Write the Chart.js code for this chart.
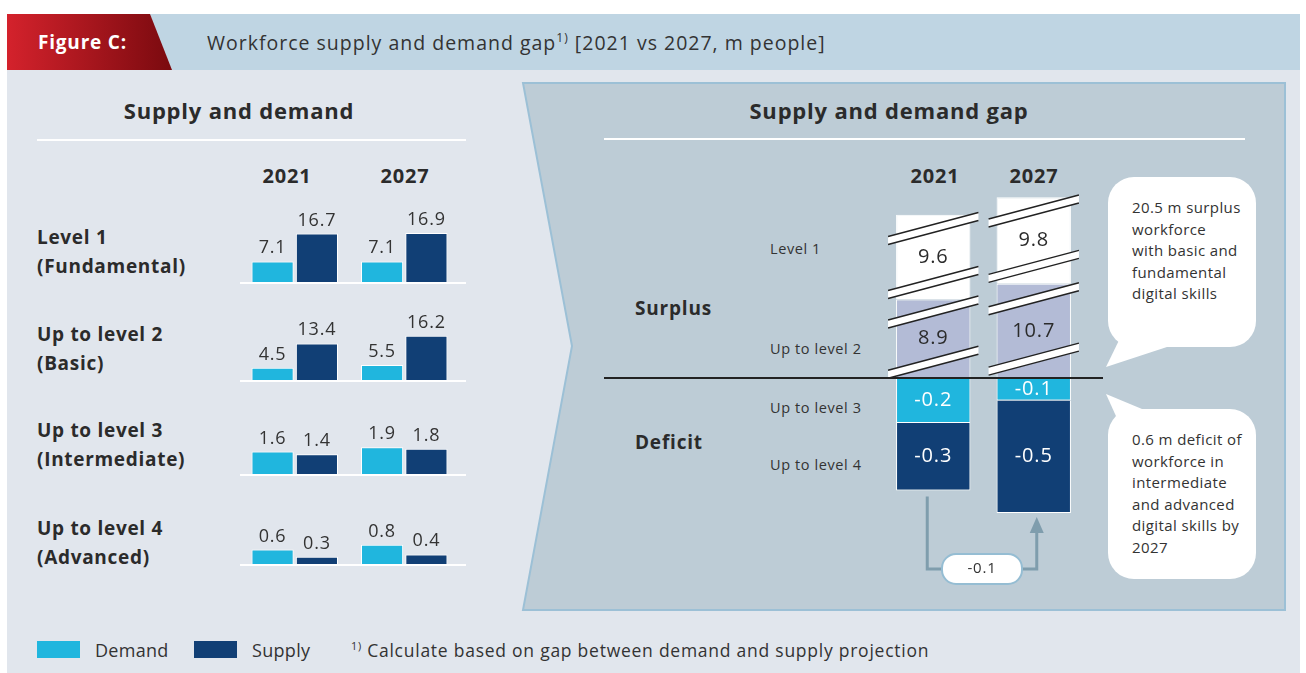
<!DOCTYPE html>
<html lang="en">
<head>
<meta charset="UTF-8">
<title>Figure C - Workforce supply and demand gap</title>
<script src="https://cdn.jsdelivr.net/npm/chart.js"></script>
<style>
    body {
        margin: 0;
        width: 1306px;
        height: 673px;
        position: relative;
        overflow: hidden;
        background: #fff;
        font-family: 'Open Sans', sans-serif;
        color: #2b2b2b;
        letter-spacing: 0.8px;
    }
    .abs { position: absolute; }
    .t { position: absolute; transform: translateY(-50%); white-space: nowrap; }
    .c { position: absolute; transform: translate(-50%, -50%); white-space: nowrap; }
    .b { font-weight: 700; }
    .row { font-size: 19px; font-weight: 700; line-height: 29px; letter-spacing: 0.7px; }
    .lvl { font-size: 14.5px; color: #333; letter-spacing: 0.6px; }
    .bubble { font-size: 15px; line-height: 21.5px; color: #333; position: absolute; letter-spacing: 0.4px; }
    canvas { position: absolute; }
    sup { font-size: 62%; }
</style>
</head>
<body>
<svg class="abs" width="1306" height="673" style="left:0;top:0">
    <defs>
        <linearGradient id="red" x1="0" x2="1" y1="0" y2="0">
            <stop offset="0" stop-color="#d4222c"/>
            <stop offset="1" stop-color="#7a0a0f"/>
        </linearGradient>
    </defs>
    <rect x="7" y="70" width="1293" height="603" fill="#e1e6ed"/>
    <rect x="7" y="14" width="1293" height="56" fill="#bfd5e3"/>
    <polygon points="7,14 150,14 172,70 7,70" fill="url(#red)"/>
    <polygon points="523,83 1285,83 1285,610 523,610 572,346" fill="#bdccd6" stroke="#9cc0d6" stroke-width="2"/>
    <line x1="37" y1="140" x2="466" y2="140" stroke="#fff" stroke-width="2"/>
    <line x1="604" y1="139" x2="1245" y2="139" stroke="#fff" stroke-width="2"/>
    <g stroke="#fff" stroke-width="2">
        <line x1="240" y1="283" x2="466" y2="283"/>
        <line x1="240" y1="381" x2="466" y2="381"/>
        <line x1="240" y1="475" x2="466" y2="475"/>
        <line x1="240" y1="565" x2="466" y2="565"/>
    </g>
    <g fill="#fff">
        <rect x="1108" y="177" width="148" height="170" rx="26"/>
        <polygon points="1124,330 1106,367 1170,346 1170,330"/>
        <rect x="1108" y="409" width="148" height="170" rx="26"/>
        <polygon points="1106,394 1142,409 1142,425 1120,425"/>
    </g>
    <rect x="37" y="641" width="43" height="17" fill="#20b6de"/>
    <rect x="194" y="641" width="43" height="17" fill="#113f75"/>
</svg>

<div class="t b" style="left:38px;top:42px;color:#fff;font-size:19px">Figure C:</div>
<div class="t" style="left:207px;top:42px;font-size:19.5px;color:#333;letter-spacing:1px">Workforce supply and demand gap<sup>1)</sup> [2021 vs 2027, m people]</div>

<div class="c b" style="left:239px;top:110px;font-size:22px">Supply and demand</div>
<div class="c b" style="left:889px;top:110px;font-size:22px">Supply and demand gap</div>

<div class="c b" style="left:287px;top:175px;font-size:20px">2021</div>
<div class="c b" style="left:405px;top:175px;font-size:20px">2027</div>
<div class="c b" style="left:935px;top:175px;font-size:20px">2021</div>
<div class="c b" style="left:1034px;top:175px;font-size:20px">2027</div>

<div class="t row" style="left:37px;top:252px">Level 1<br>(Fundamental)</div>
<div class="t row" style="left:37px;top:349px">Up to level 2<br>(Basic)</div>
<div class="t row" style="left:37px;top:445px">Up to level 3<br>(Intermediate)</div>
<div class="t row" style="left:37px;top:543px">Up to level 4<br>(Advanced)</div>

<div class="t b" style="left:635px;top:308px;font-size:19px">Surplus</div>
<div class="t b" style="left:635px;top:442px;font-size:19px">Deficit</div>
<div class="t lvl" style="left:770px;top:248px">Level 1</div>
<div class="t lvl" style="left:770px;top:348px">Up to level 2</div>
<div class="t lvl" style="left:770px;top:407px">Up to level 3</div>
<div class="t lvl" style="left:770px;top:464px">Up to level 4</div>

<div class="bubble" style="left:1132px;top:197px">20.5 m surplus<br>workforce<br>with basic and<br>fundamental<br>digital skills</div>
<div class="bubble" style="left:1132px;top:429px">0.6 m deficit of<br>workforce in<br>intermediate<br>and advanced<br>digital skills by<br>2027</div>

<div class="t" style="left:95px;top:650px;font-size:18px;color:#333;letter-spacing:0.3px">Demand</div>
<div class="t" style="left:252px;top:650px;font-size:18px;color:#333;letter-spacing:0.3px">Supply</div>
<div class="t" style="left:351px;top:650px;font-size:17.5px;color:#333;letter-spacing:0.75px"><sup>1)</sup> Calculate based on gap between demand and supply projection</div>

<canvas id="row1" width="226" height="90" style="left:240px;top:192px"></canvas>
<canvas id="row2" width="226" height="90" style="left:240px;top:290px"></canvas>
<canvas id="row3" width="226" height="90" style="left:240px;top:384px"></canvas>
<canvas id="row4" width="226" height="90" style="left:240px;top:474px"></canvas>
<canvas id="gapChart" width="505" height="420" style="left:600px;top:180px"></canvas>

<script>
    const years = ['2021', '2027'];

    // Supply and demand (m people)
    const demandLevel1 = [7.1, 7.1];
    const supplyLevel1 = [16.7, 16.9];
    const demandLevel2 = [4.5, 5.5];
    const supplyLevel2 = [13.4, 16.2];
    const demandLevel3 = [1.6, 1.9];
    const supplyLevel3 = [1.4, 1.8];
    const demandLevel4 = [0.6, 0.8];
    const supplyLevel4 = [0.3, 0.4];

    // Supply and demand gap (m people)
    const surplusLevel1 = [9.6, 9.8];
    const surplusLevel2 = [8.9, 10.7];
    const deficitLevel3 = [-0.2, -0.1];
    const deficitLevel4 = [-0.3, -0.5];

    const cyan = '#20b6de';
    const navy = '#113f75';
    const lavender = '#b3bbd6';

    // numbers above the small bars
    const topLabels = {
        id: 'topLabels',
        afterDatasetsDraw(chart) {
            const ctx = chart.ctx;
            ctx.save();
            ctx.font = '18px "Open Sans"';
            ctx.fillStyle = '#333';
            ctx.textAlign = 'center';
            chart.data.datasets.forEach((ds, i) => {
                chart.getDatasetMeta(i).data.forEach((bar, j) => {
                    ctx.fillText(ds.data[j].toFixed(1), bar.x, bar.y - 8);
                });
            });
            ctx.restore();
        }
    };

    function rowChart(id, demand, supply, max) {
        return new Chart(document.getElementById(id), {
            type: 'bar',
            data: {
                labels: years,
                datasets: [
                    { label: 'Demand', data: demand, backgroundColor: cyan },
                    { label: 'Supply', data: supply, backgroundColor: navy }
                ]
            },
            options: {
                responsive: false,
                animation: false,
                layout: { padding: { right: 7 } },
                datasets: { bar: { categoryPercentage: 0.81, barPercentage: 0.95, borderColor: '#fff', borderWidth: 1 } },
                plugins: { legend: { display: false }, tooltip: { enabled: false } },
                scales: {
                    x: { display: false },
                    y: { display: false, min: 0, max: max }
                }
            },
            plugins: [topLabels]
        });
    }

    rowChart('row1', demandLevel1, supplyLevel1, 31);
    rowChart('row2', demandLevel2, supplyLevel2, 33);
    rowChart('row3', demandLevel3, supplyLevel3, 6.4);
    rowChart('row4', demandLevel4, supplyLevel4, 3.75);

    // axis break marks drawn across the surplus bars
    function drawBreak(ctx, left, right, yc) {
        const x1 = left - 8, x2 = right + 8, rise = 12, gap = 8;
        ctx.beginPath();
        ctx.moveTo(x1, yc + rise - gap / 2);
        ctx.lineTo(x2, yc - rise - gap / 2);
        ctx.lineTo(x2, yc - rise + gap / 2);
        ctx.lineTo(x1, yc + rise + gap / 2);
        ctx.closePath();
        ctx.fillStyle = '#fff';
        ctx.fill();
        ctx.beginPath();
        ctx.moveTo(x1, yc + rise - gap / 2);
        ctx.lineTo(x2, yc - rise - gap / 2);
        ctx.moveTo(x1, yc + rise + gap / 2);
        ctx.lineTo(x2, yc - rise + gap / 2);
        ctx.strokeStyle = '#222';
        ctx.lineWidth = 1.5;
        ctx.stroke();
    }

    const gapDecor = {
        id: 'gapDecor',
        afterDatasetsDraw(chart) {
            const ctx = chart.ctx;
            const zeroY = chart.scales.yPos.getPixelForValue(0);
            ctx.save();

            // breaks on the surplus segments
            [0, 1].forEach(i => {
                chart.getDatasetMeta(i).data.forEach(bar => {
                    const h = bar.base - bar.y;
                    const l = bar.x - bar.width / 2, r = bar.x + bar.width / 2;
                    drawBreak(ctx, l, r, bar.y + h * 0.16);
                    drawBreak(ctx, l, r, bar.y + h * 0.8);
                });
            });

            // values inside the segments
            ctx.font = '20px "Open Sans"';
            ctx.textAlign = 'center';
            ctx.textBaseline = 'middle';
            chart.data.datasets.forEach((ds, i) => {
                chart.getDatasetMeta(i).data.forEach((bar, j) => {
                    ctx.fillStyle = i < 2 ? '#2b2b2b' : '#fff';
                    ctx.fillText(ds.data[j].toFixed(1), bar.x, (bar.y + bar.base) / 2);
                });
            });

            // zero line
            ctx.beginPath();
            ctx.moveTo(4, zeroY);
            ctx.lineTo(chart.width - 2, zeroY);
            ctx.strokeStyle = '#222';
            ctx.lineWidth = 2;
            ctx.stroke();

            // change in total deficit arrow
            const b0 = chart.getDatasetMeta(3).data[0];
            const b1 = chart.getDatasetMeta(3).data[1];
            const bottom0 = Math.max(b0.y, b0.base);
            const bottom1 = Math.max(b1.y, b1.base);
            const x1 = b0.x - 6, x2 = b1.x + 3, yH = Math.max(bottom0, bottom1) + 56;
            ctx.beginPath();
            ctx.moveTo(x1, bottom0 + 6);
            ctx.lineTo(x1, yH);
            ctx.lineTo(x2, yH);
            ctx.lineTo(x2, bottom1 + 18);
            ctx.strokeStyle = '#7f9dad';
            ctx.lineWidth = 3;
            ctx.stroke();
            ctx.beginPath();
            ctx.moveTo(x2, bottom1 + 4);
            ctx.lineTo(x2 - 7, bottom1 + 20);
            ctx.lineTo(x2 + 7, bottom1 + 20);
            ctx.closePath();
            ctx.fillStyle = '#7f9dad';
            ctx.fill();

            const total2021 = deficitLevel3[0] + deficitLevel4[0];
            const total2027 = deficitLevel3[1] + deficitLevel4[1];
            const cx = (x1 + x2) / 2;
            ctx.beginPath();
            ctx.roundRect(cx - 40, yH - 15, 80, 30, 14);
            ctx.fillStyle = '#fff';
            ctx.fill();
            ctx.strokeStyle = '#95bdd3';
            ctx.lineWidth = 2;
            ctx.stroke();
            ctx.font = '15px "Open Sans"';
            ctx.fillStyle = '#333';
            ctx.fillText((total2027 - total2021).toFixed(1), cx, yH);
            ctx.restore();
        }
    };

    new Chart(document.getElementById('gapChart'), {
        type: 'bar',
        data: {
            labels: years,
            datasets: [
                { label: 'Up to level 2', data: surplusLevel2, yAxisID: 'yPos', backgroundColor: lavender },
                { label: 'Level 1', data: surplusLevel1, yAxisID: 'yPos', backgroundColor: '#fff' },
                { label: 'Up to level 3', data: deficitLevel3, yAxisID: 'yNeg', backgroundColor: cyan },
                { label: 'Up to level 4', data: deficitLevel4, yAxisID: 'yNeg', backgroundColor: navy }
            ]
        },
        options: {
            responsive: false,
            animation: false,
            layout: { padding: { left: 283, right: 21, top: 4, bottom: 87 } },
            datasets: { bar: { categoryPercentage: 1, barPercentage: 0.74, borderColor: '#fff', borderWidth: 1 } },
            plugins: { legend: { display: false }, tooltip: { enabled: false } },
            scales: {
                x: { display: false, stacked: true },
                // stacked axes: the one listed last is laid out on top
                yNeg: { display: false, stacked: true, stack: 'gap', stackWeight: 135, min: -0.6, max: 0, position: 'left' },
                yPos: { display: false, stacked: true, stack: 'gap', stackWeight: 194, min: 0, max: 22, position: 'left' }
            }
        },
        plugins: [gapDecor]
    });
</script>
</body>
</html>
